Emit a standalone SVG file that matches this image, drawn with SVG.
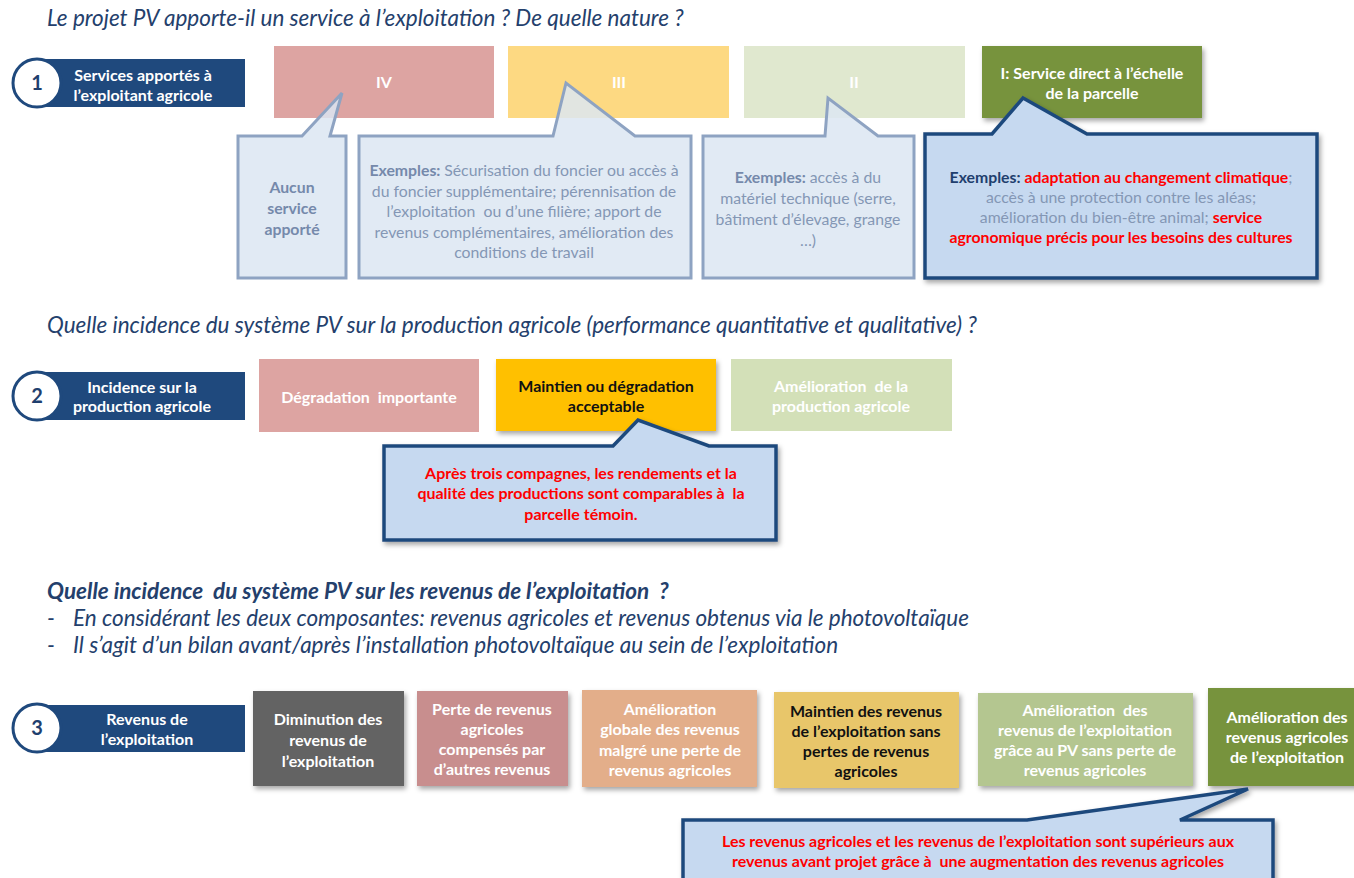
<svg xmlns="http://www.w3.org/2000/svg" width="1354" height="878" viewBox="0 0 1354 878">
  <defs>
    <filter id="shadow" x="-10%" y="-10%" width="125%" height="130%">
      <feDropShadow dx="2" dy="3" stdDeviation="2.5" flood-color="#000" flood-opacity="0.35"/>
    </filter>
    <style>
      text { font-family: "Lato", "Liberation Sans", sans-serif; }
      .h { font-size: 22.5px; font-style: italic; fill: #24406c; }
      .hb { font-weight: bold; }
      .lbl { font-size: 16px; font-weight: bold; fill: #ffffff; text-anchor: middle; }
      .dark { fill: #111111; }
      .num { font-size: 20px; font-weight: bold; fill: #1f3f6e; text-anchor: middle; }
      .bar { fill: #1f497d; }
      .ring { fill: #ffffff; stroke: #1f497d; stroke-width: 3; }
      .faint { fill: #dce6f2; stroke: #8ea3c2; stroke-width: 3; stroke-linejoin: miter; }
      .strong { fill: #c6d9f0; stroke: #1f497d; stroke-width: 3.5; stroke-linejoin: miter; }
      .ft { font-size: 15.8px; fill: #8497b5; text-anchor: middle; }
      .ftb { font-weight: bold; fill: #7589ab; }
      .red { font-size: 16px; font-weight: bold; fill: #ff0000; text-anchor: middle; }
    </style>
  </defs>

  <rect width="1354" height="878" fill="#ffffff"/>

  <!-- Section headings -->
  <g id="headings">
    <text class="h" x="47" y="26">Le projet PV apporte-il un service à l’exploitation ? De quelle nature ?</text>
    <text class="h" x="47" y="333">Quelle incidence du système PV sur la production agricole (performance quantitative et qualitative) ?</text>
    <text class="h hb" x="47" y="599">Quelle incidence&#160; du système PV sur les revenus de l’exploitation&#160; ?</text>
    <text class="h" x="47" y="626">-</text>
    <text class="h" x="73" y="626">En considérant les deux composantes: revenus agricoles et revenus obtenus via le photovoltaïque</text>
    <text class="h" x="47" y="653">-</text>
    <text class="h" x="73" y="653">Il s’agit d’un bilan avant/après l’installation photovoltaïque au sein de l’exploitation</text>
  </g>

  <!-- Row 1: services -->
  <g id="row1-label">
    <rect class="bar" x="36" y="59" width="209" height="48"/>
    <circle class="ring" cx="37" cy="83" r="24"/>
    <text class="num" x="37" y="90">1</text>
    <text class="lbl" x="143" y="81">Services apportés à<tspan x="143" dy="20">l’exploitant agricole</tspan></text>
  </g>
  <g id="box-IV">
    <rect x="274" y="46" width="220" height="72" fill="#dda4a2"/>
    <text class="lbl" x="384" y="88">IV</text>
  </g>
  <g id="box-III">
    <rect x="508" y="46" width="221" height="72" fill="#fdd982"/>
    <text class="lbl" x="619" y="88">III</text>
  </g>
  <g id="box-II">
    <rect x="744" y="46" width="221" height="72" fill="#e0e8cf"/>
    <text class="lbl" x="854" y="88">II</text>
  </g>
  <g id="box-I">
    <rect x="982" y="46" width="220" height="72" fill="#77933c" filter="url(#shadow)"/>
    <text class="lbl" x="1092" y="79">I: Service direct à l’échelle<tspan x="1092" dy="20">de la parcelle</tspan></text>
  </g>

  <g id="callout-IV">
    <path class="faint" fill-opacity="0.85" d="M238,136 L302,136 L342,93 L330,136 L346,136 L346,278 L238,278 Z"/>
    <text class="ft ftb" x="292" y="193">Aucun<tspan x="292" dy="21">service</tspan><tspan x="292" dy="21">apporté</tspan></text>
  </g>
  <g id="callout-III">
    <path class="faint" fill-opacity="0.85" d="M359,136 L553,136 L566,83 L635,136 L691,136 L691,278 L359,278 Z"/>
    <text class="ft" x="524" y="176"><tspan class="ftb">Exemples: </tspan>Sécurisation du foncier ou accès à<tspan x="524" dy="20.5">du foncier supplémentaire; pérennisation de</tspan><tspan x="524" dy="20.5">l’exploitation&#160; ou d’une filière; apport de</tspan><tspan x="524" dy="20.5">revenus complémentaires, amélioration des</tspan><tspan x="524" dy="20.5">conditions de travail</tspan></text>
  </g>
  <g id="callout-II">
    <path class="faint" fill-opacity="0.85" d="M703,136 L825,136 L828,98 L878,136 L914,136 L914,278 L703,278 Z"/>
    <text class="ft" x="808" y="183"><tspan class="ftb">Exemples: </tspan>accès à du<tspan x="808" dy="21">matériel technique (serre,</tspan><tspan x="808" dy="21">bâtiment d’élevage, grange</tspan><tspan x="808" dy="21">…)</tspan></text>
  </g>
  <g id="callout-I">
    <path class="strong" filter="url(#shadow)" d="M925,134 L992,134 L1023,98 L1087,134 L1317,134 L1317,278 L925,278 Z"/>
    <text class="ft" x="1121" y="183"><tspan font-weight="bold" fill="#1f3f6e">Exemples: </tspan><tspan font-weight="bold" fill="#ff0000">adaptation au changement climatique</tspan>;<tspan x="1121" dy="20">accès à une protection contre les aléas;</tspan><tspan x="1121" dy="20">amélioration du bien-être animal; <tspan font-weight="bold" fill="#ff0000">service</tspan></tspan><tspan x="1121" dy="20" font-weight="bold" fill="#ff0000">agronomique précis pour les besoins des cultures</tspan></text>
  </g>

  <!-- Row 2: agricultural production -->
  <g id="row2-label">
    <rect class="bar" x="36" y="372" width="209" height="48"/>
    <circle class="ring" cx="37" cy="396" r="24"/>
    <text class="num" x="37" y="403">2</text>
    <text class="lbl" x="142" y="392.5">Incidence sur la<tspan x="142" dy="19.5">production agricole</tspan></text>
  </g>
  <g id="box-degradation">
    <rect x="259" y="359" width="220" height="73" fill="#dda4a2"/>
    <text class="lbl" x="369" y="402.5">Dégradation&#160; importante</text>
  </g>
  <g id="box-maintien">
    <rect x="496" y="359" width="220" height="72" fill="#ffc000" filter="url(#shadow)"/>
    <text class="lbl dark" x="606" y="391.5">Maintien ou dégradation<tspan x="606" dy="20">acceptable</tspan></text>
  </g>
  <g id="box-amelioration">
    <rect x="731" y="359" width="221" height="72" fill="#d3e0b8"/>
    <text class="lbl" x="841" y="391.5">Amélioration&#160; de la<tspan x="841" dy="20">production agricole</tspan></text>
  </g>
  <g id="callout-row2">
    <path class="strong" filter="url(#shadow)" d="M384,446 L613,446 L638,420 L709,446 L776,446 L776,540 L384,540 Z"/>
    <text class="red" x="581" y="478.5">Après trois compagnes, les rendements et la<tspan x="581" dy="20.5">qualité des productions sont comparables à&#160; la</tspan><tspan x="581" dy="20.5">parcelle témoin.</tspan></text>
  </g>

  <!-- Row 3: farm income -->
  <g id="row3-label">
    <rect class="bar" x="36" y="705" width="209" height="47"/>
    <circle class="ring" cx="37" cy="728" r="24"/>
    <text class="num" x="37" y="735">3</text>
    <text class="lbl" x="147" y="724.5">Revenus de<tspan x="147" dy="20.5">l’exploitation</tspan></text>
  </g>
  <g id="box-diminution">
    <rect x="253" y="691" width="151" height="95" fill="#636363" filter="url(#shadow)"/>
    <text class="lbl" x="328" y="724.5">Diminution des<tspan x="328" dy="21">revenus de</tspan><tspan x="328" dy="21">l’exploitation</tspan></text>
  </g>
  <g id="box-perte">
    <rect x="417" y="691" width="151" height="95" fill="#c88e8e" filter="url(#shadow)"/>
    <text class="lbl" x="492" y="714.5">Perte de revenus<tspan x="492" dy="20">agricoles</tspan><tspan x="492" dy="20">compensés par</tspan><tspan x="492" dy="20">d’autres revenus</tspan></text>
  </g>
  <g id="box-globale">
    <rect x="582" y="690" width="175" height="97" fill="#e3ae8a" filter="url(#shadow)"/>
    <text class="lbl" x="670" y="714.5">Amélioration<tspan x="670" dy="20.5">globale des revenus</tspan><tspan x="670" dy="20.5">malgré une perte de</tspan><tspan x="670" dy="20.5">revenus agricoles</tspan></text>
  </g>
  <g id="box-maintien-revenus">
    <rect x="774" y="692" width="185" height="96" fill="#e8c66a" filter="url(#shadow)"/>
    <text class="lbl dark" x="866" y="716.5">Maintien des revenus<tspan x="866" dy="20">de l’exploitation sans</tspan><tspan x="866" dy="20">pertes de revenus</tspan><tspan x="866" dy="20">agricoles</tspan></text>
  </g>
  <g id="box-pv">
    <rect x="978" y="693" width="215" height="93" fill="#b4c690" filter="url(#shadow)"/>
    <text class="lbl" x="1085" y="715.5">Amélioration&#160; des<tspan x="1085" dy="20.3">revenus de l’exploitation</tspan><tspan x="1085" dy="20.3">grâce au PV sans perte de</tspan><tspan x="1085" dy="20.3">revenus agricoles</tspan></text>
  </g>
  <g id="box-agricoles">
    <rect x="1208" y="688" width="150" height="98" fill="#77933c" filter="url(#shadow)"/>
    <text class="lbl" x="1287" y="722.5">Amélioration des<tspan x="1287" dy="20">revenus agricoles</tspan><tspan x="1287" dy="20">de l’exploitation</tspan></text>
  </g>
  <g id="callout-row3">
    <path class="strong" filter="url(#shadow)" d="M683,820 L1027,820 L1248,789 L1180,820 L1273,820 L1273,884 L683,884 Z"/>
    <text class="red" x="978" y="846.5">Les revenus agricoles et les revenus de l’exploitation sont supérieurs aux<tspan x="978" dy="20">revenus avant projet grâce à&#160; une augmentation des revenus agricoles</tspan></text>
  </g>
</svg>
